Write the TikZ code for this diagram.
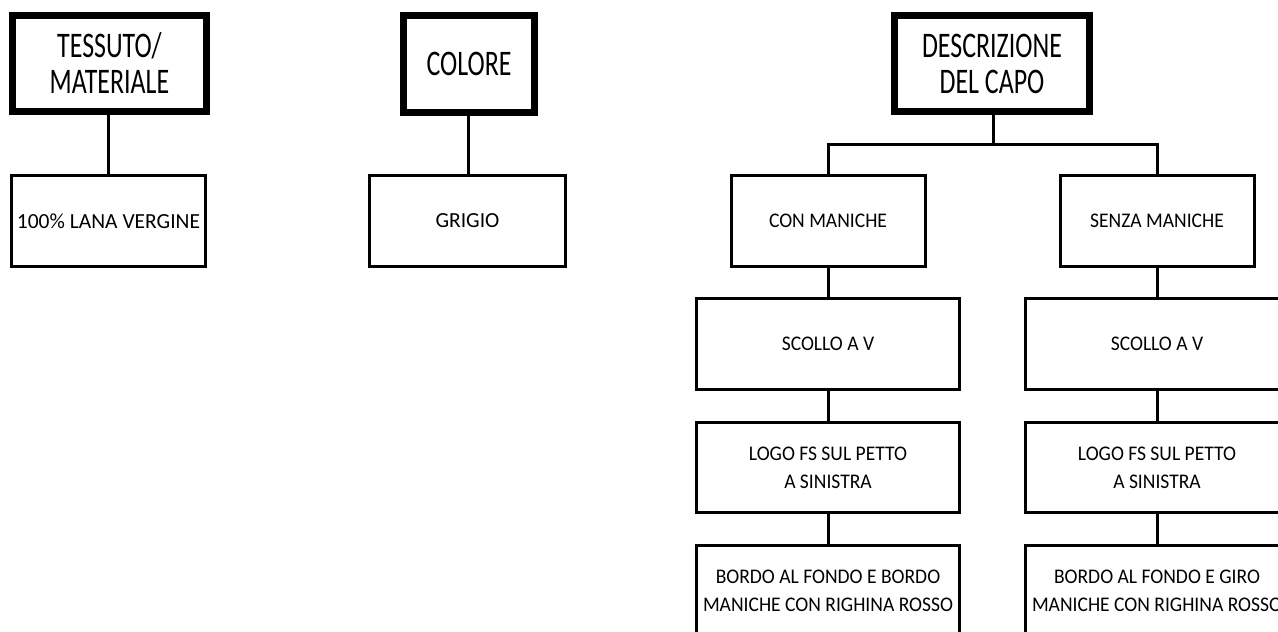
\documentclass[tikz,border=0pt]{standalone}
\usepackage{fontspec}
\setmainfont{Carlito}
\newfontfamily\bigf[FakeStretch=0.72]{Carlito}
\newfontfamily\smallf[FakeStretch=0.94]{Carlito}
\begin{document}
\begin{tikzpicture}[x=1pt,y=-1pt,
  headbox/.style={draw=black,line width=7pt,rectangle,inner sep=0pt,align=center,
    font=\bigf\fontsize{36}{36}\selectfont},
  itembox/.style={draw=black,line width=3pt,rectangle,inner sep=0pt,align=center,
    minimum height=91pt,font=\smallf\fontsize{20.8}{28}\selectfont},
  itemboxL/.style={itembox,font=\fontsize{21.5}{28}\selectfont},
  link/.style={draw=black,line width=3pt}]
\useasboundingbox (0,0) rectangle (1278,632);
\clip (0,0) rectangle (1278,632);
\fill[white] (0,0) rectangle (1278,632);
% headers
\node[headbox,minimum width=194pt,minimum height=96pt] (tes) at (109.5,63.5) {TESSUTO/\\MATERIALE};
\node[headbox,minimum width=131pt,minimum height=97pt] (col) at (469,64) {COLORE};
\node[headbox,minimum width=195pt,minimum height=96pt] (desc) at (992,63.5) {DESCRIZIONE\\DEL CAPO};
% left items
\node[itemboxL,minimum width=194pt] (lana) at (108.5,221) {100\% LANA VERGINE};
\node[itemboxL,minimum width=196pt] (grig) at (467.5,221) {GRIGIO};
% tree
\node[itembox,minimum width=194pt] (con) at (828,221) {CON MANICHE};
\node[itembox,minimum width=194pt] (senza) at (1157,221) {SENZA MANICHE};
\node[itembox,minimum width=263pt] (scL) at (828,344) {SCOLLO A V};
\node[itembox,minimum width=263pt] (scR) at (1157,344) {SCOLLO A V};
\node[itembox,minimum width=263pt,minimum height=90pt] (logoL) at (828,467.5) {LOGO FS SUL PETTO\\A SINISTRA};
\node[itembox,minimum width=263pt,minimum height=90pt] (logoR) at (1157,467.5) {LOGO FS SUL PETTO\\A SINISTRA};
\node[itembox,minimum width=263pt] (bordL) at (828,591) {BORDO AL FONDO E BORDO\\MANICHE CON RIGHINA ROSSO};
\node[itembox,minimum width=263pt] (bordR) at (1157,591) {BORDO AL FONDO E GIRO\\MANICHE CON RIGHINA ROSSO};
\coordinate (bar) at (993,144);
% connectors
\draw[link] ([xshift=-1.5pt]tes.south) -- ([xshift=-1.5pt]tes.south |- lana.north);
\draw[link] ([xshift=-1pt]col.south) -- ([xshift=-1pt]col.south |- grig.north);
\draw[link] (desc.south -| bar) -- (bar);
\draw[link] (con.north) |- (bar) -| (senza.north);
\draw[link] (con.south) -- (scL.north);
\draw[link] (senza.south) -- (scR.north);
\draw[link] (scL.south) -- (logoL.north);
\draw[link] (scR.south) -- (logoR.north);
\draw[link] (logoL.south) -- (bordL.north);
\draw[link] (logoR.south) -- (bordR.north);
\end{tikzpicture}
\end{document}
